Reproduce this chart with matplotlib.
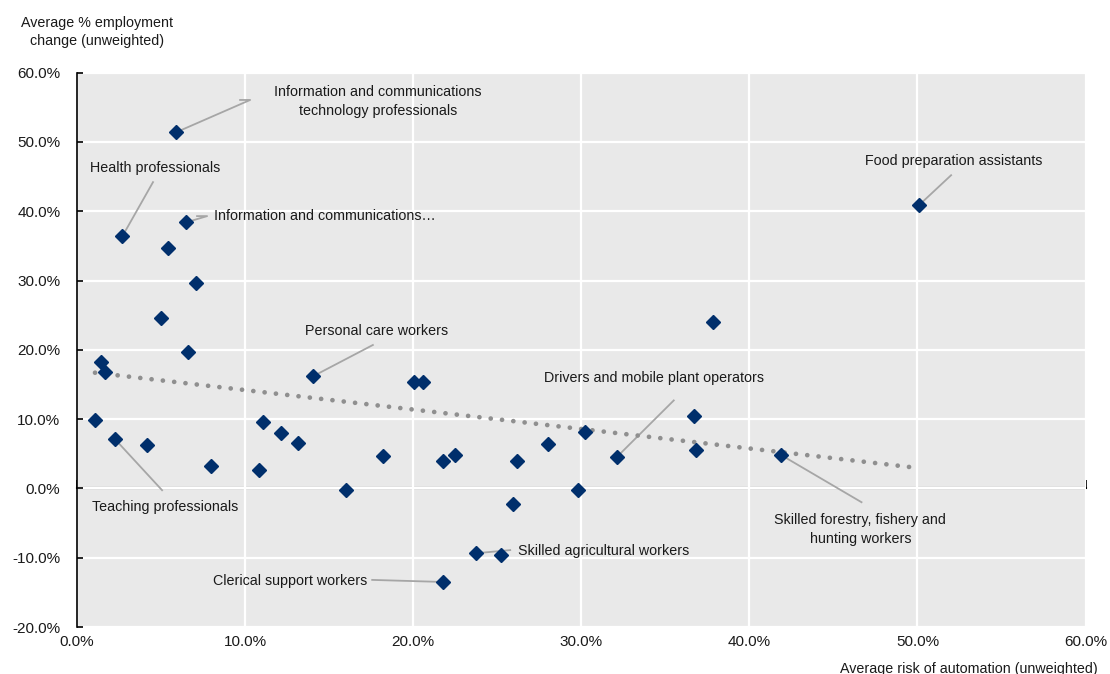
import matplotlib.pyplot as plt
from matplotlib.ticker import FuncFormatter

# average risk of automation (%) and average employment change (%) by occupation
risk = [5.9, 2.7, 6.5, 5.4, 7.1, 5.0, 6.6, 1.43, 1.67, 1.07, 2.26, 4.17, 7.98,
        10.8, 11.07, 12.14, 13.15, 14.05, 16.0, 18.2, 20.06, 20.6, 21.8, 22.5,
        21.8, 23.75, 25.24, 25.95, 26.2, 28.0, 29.8, 30.24, 32.1, 36.7, 36.85,
        37.86, 41.9, 50.1]
change = [51.4, 36.4, 38.4, 34.7, 29.6, 24.6, 19.7, 18.2, 16.8, 9.85, 7.1, 6.25,
          3.2, 2.6, 9.56, 7.97, 6.5, 16.2, -0.26, 4.65, 15.3, 15.3, 3.93, 4.8,
          -13.5, -9.35, -9.6, -2.3, 4.0, 6.4, -0.26, 8.1, 4.5, 10.4, 5.6, 24.0,
          4.8, 40.9]

# linear trend, start and end
trend_x = [1.07, 50.0]
trend_y = [16.7, 2.96]

# labelled occupations: index into the arrays, label text, text anchor, leader path
labels = [
    (0, "Information and communications\ntechnology professionals", (17.9, 55.9), 'center', [(10.3, 56.06), (9.7, 56.06)]),
    (1, "Health professionals", (0.77, 46.2), 'left', [(4.52, 44.2)]),
    (2, "Information and communications\u2026", (8.15, 39.3), 'left', [(7.74, 39.3), (7.14, 39.3)]),
    (17, "Personal care workers", (13.57, 22.7), 'left', [(17.6, 20.7)]),
    (10, "Teaching professionals", (0.89, -2.7), 'left', [(5.06, -0.26)]),
    (24, "Clerical support workers", (8.1, -13.4), 'left', [(17.56, -13.2)]),
    (25, "Skilled agricultural workers", (26.25, -9.1), 'left', [(25.77, -8.9)]),
    (32, "Drivers and mobile plant operators", (27.8, 15.9), 'left', [(35.5, 12.7)]),
    (36, "Skilled forestry, fishery and\nhunting workers", (46.6, -5.9), 'center', [(46.67, -1.99)]),
    (37, "Food preparation assistants", (46.9, 47.3), 'left', [(52.0, 45.2)]),
]

plt.rcParams['font.family'] = ['Liberation Sans', 'DejaVu Sans']
fs = 10.3

navy = '#002f6c'
text_col = '#1a1a1a'
lead_col = '#a6a6a6'

fig = plt.figure(figsize=(11.1, 6.74), dpi=100)
ax = fig.add_axes([0.0694, 0.0697, 0.9086, 0.8225])
ax.set_facecolor('#e9e9e9')

ax.set_xlim(0, 60)
ax.set_ylim(-20, 60)
ax.set_xticks(range(0, 61, 10))
ax.set_yticks(range(-20, 61, 10))
pct = FuncFormatter(lambda v, p: '%.1f%%' % v)
ax.xaxis.set_major_formatter(pct)
ax.yaxis.set_major_formatter(pct)

ax.grid(True, color='white', linewidth=1.6)
ax.set_axisbelow(True)
for s in ['top', 'right', 'bottom']:
    ax.spines[s].set_visible(False)
ax.spines['left'].set_color('black')
ax.spines['left'].set_linewidth(1.2)
ax.tick_params(axis='x', length=0, labelsize=fs + 0.7, labelcolor=text_col, pad=6)
ax.tick_params(axis='y', direction='in', length=4, width=1.2, labelsize=fs + 0.7,
               labelcolor=text_col, pad=12)

# axis line through zero with its own ticks
zero = ax.secondary_xaxis(0, transform=ax.transData)
zero.set_xticks(range(0, 61, 10))
zero.tick_params(direction='in', length=6, width=1.2, labelbottom=False)
zero.spines['bottom'].set_linewidth(1.5)

ax.plot(trend_x, trend_y, color='#8f8f8f', linewidth=3.4,
        linestyle=(0, (0.01, 2.4)), dash_capstyle='round', zorder=3)

for idx, text, pos, ha, path in labels:
    xs = [risk[idx]] + [p[0] for p in path]
    ys = [change[idx]] + [p[1] for p in path]
    ax.plot(xs, ys, color=lead_col, linewidth=1.3, zorder=2.5)
    ax.text(pos[0], pos[1], text, ha=ha, va='center', fontsize=fs,
            color=text_col, multialignment='center', linespacing=1.45, zorder=5)

ax.plot(risk, change, linestyle='none', marker='D', markersize=7.5,
        color=navy, zorder=4)

fig.text(0.087, 0.9525, 'Average % employment\nchange (unweighted)', ha='center',
         va='center', fontsize=fs, color=text_col, linespacing=1.45)
fig.text(0.989, 0.008, 'Average risk of automation (unweighted)', ha='right',
         va='center', fontsize=fs, color=text_col)

fig.savefig('out.png', dpi=100)
